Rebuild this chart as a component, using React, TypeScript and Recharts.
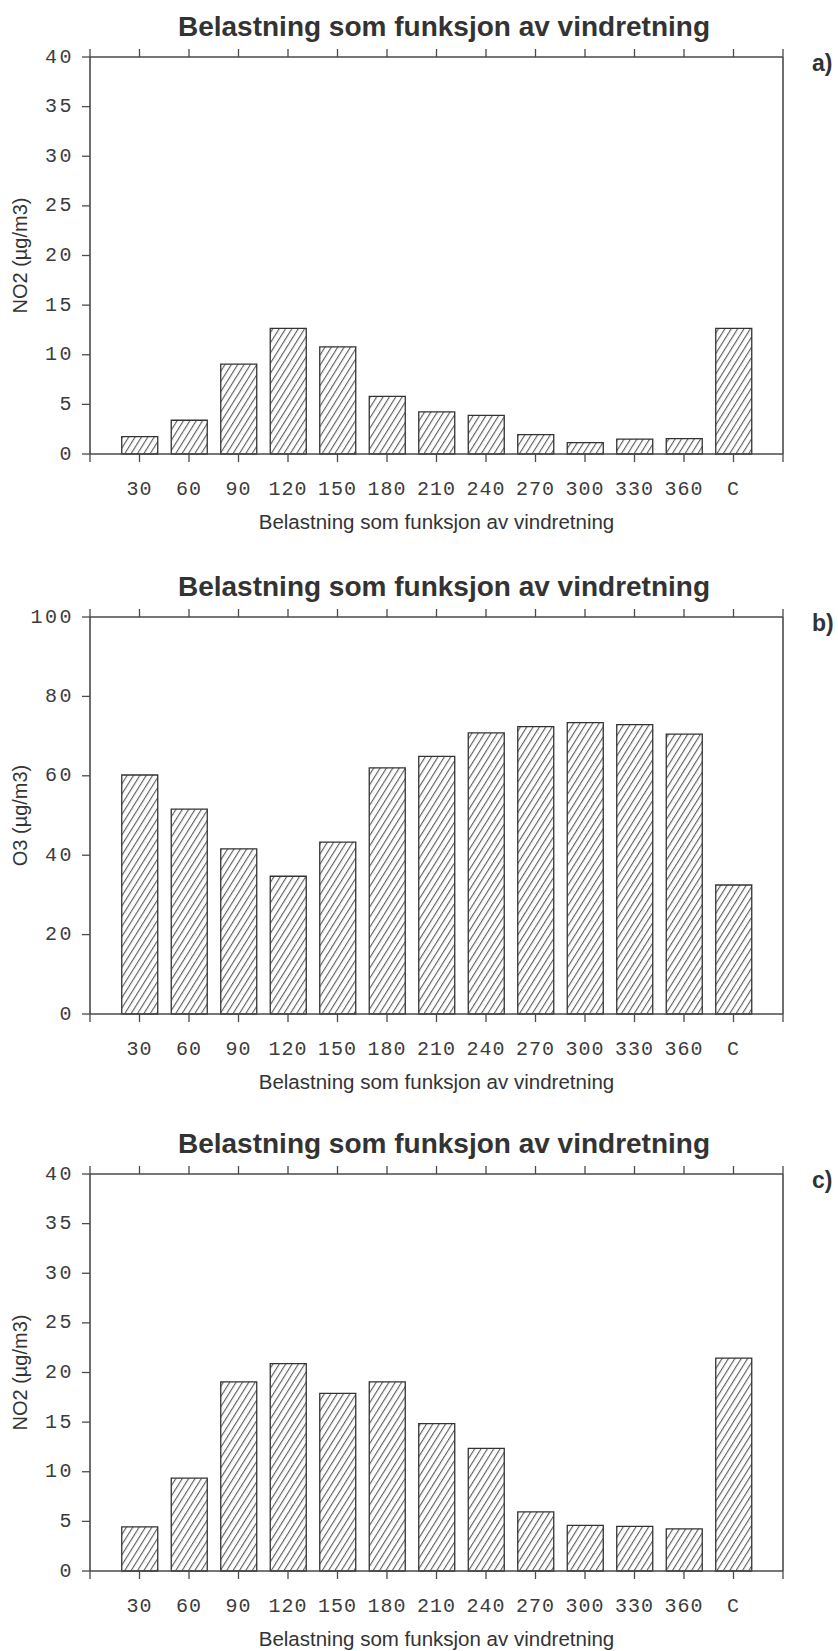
import React from 'react';
import { BarChart, Bar, XAxis, YAxis } from 'recharts';

// Wind-direction sectors (degrees) plus calm ("C")
const categories = ['30', '60', '90', '120', '150', '180', '210', '240', '270', '300', '330', '360', 'C'];

// a) NO2 (µg/m3) per sector
const no2Upper = [1.75, 3.4, 9.05, 12.65, 10.8, 5.8, 4.25, 3.9, 1.95, 1.15, 1.5, 1.55, 12.65];
// b) O3 (µg/m3) per sector
const o3Values = [60.2, 51.6, 41.6, 34.7, 43.3, 62.0, 64.9, 70.8, 72.4, 73.4, 72.9, 70.5, 32.5];
// c) NO2 (µg/m3) per sector
const no2Lower = [4.45, 9.35, 19.05, 20.9, 17.9, 19.05, 14.85, 12.35, 5.95, 4.6, 4.5, 4.25, 21.45];

const no2Ticks = [0, 5, 10, 15, 20, 25, 30, 35, 40];
const o3Ticks = [0, 20, 40, 60, 80, 100];
// slot 0 and slot 14 are the frame edges, 1..13 the sectors
const slotTicks = [0, 1, 2, 3, 4, 5, 6, 7, 8, 9, 10, 11, 12, 13, 14];

const TITLE = 'Belastning som funksjon av vindretning';
const X_TITLE = 'Belastning som funksjon av vindretning';

const W = 838;
const LEFT = 90;
const RIGHT = 55;
const TOP = 57;
const PLOT_H = 397;

const INK = '#3c3c3c';
const AXIS = '#4a4a4a';
const MONO = '"Liberation Mono", "Courier New", monospace';
const SANS = '"Liberation Sans", Arial, Helvetica, sans-serif';

const labelFor = (v: number) => (v >= 1 && v <= categories.length ? categories[v - 1] : '');

const BottomTick = (props: any) => {
  const { x, y, payload } = props;
  return (
    <text x={x} y={y} textAnchor="middle" dominantBaseline="central" fontFamily={MONO} fontSize={20} letterSpacing={1} fill={INK}>
      {labelFor(payload.value)}
    </text>
  );
};

const LeftTick = (props: any) => {
  const { x, y, payload } = props;
  return (
    <text x={x} y={y} textAnchor="end" dominantBaseline="central" fontFamily={MONO} fontSize={20} letterSpacing={2.5} fill={INK}>
      {payload.value}
    </text>
  );
};

// tick marks only, no label text
const BlankTick = () => <g />;

type PanelProps = {
  id: string;
  tag: string;
  yTitle: string;
  values: number[];
  yMax: number;
  yTicks: number[];
  top: number;
  height: number;
};

function Panel({ id, tag, yTitle, values, yMax, yTicks, top, height }: PanelProps) {
  const data = categories.map((c, i) => ({ slot: i + 1, label: c, value: values[i] }));
  const bottomH = height - TOP - PLOT_H;
  const axisLine = { stroke: AXIS, strokeWidth: 1.6 };
  const tickLine = { stroke: AXIS, strokeWidth: 1.3 };
  const plotRight = W - RIGHT;
  const zeroY = TOP + PLOT_H;
  return (
    <div style={{ position: 'absolute', left: 0, top, width: W, height }}>
      <BarChart width={W} height={height} data={data} margin={{ top: 0, right: 0, bottom: 0, left: 0 }}>
        <defs>
          <pattern id={`hatch-${id}`} patternUnits="userSpaceOnUse" width={5.4} height={10} patternTransform="rotate(32)">
            <rect x={0} y={0} width={5.4} height={10} fill="#ffffff" />
            <line x1={0.6} y1={0} x2={0.6} y2={10} stroke="#4a4a4a" strokeWidth={1} />
          </pattern>
        </defs>
        <XAxis
          xAxisId="bottom"
          orientation="bottom"
          type="number"
          dataKey="slot"
          domain={[0, 14]}
          ticks={slotTicks}
          interval={0}
          height={bottomH}
          tickSize={8}
          tickMargin={27}
          axisLine={axisLine}
          tickLine={tickLine}
          tick={BottomTick}
        />
        <XAxis
          xAxisId="top"
          orientation="top"
          type="number"
          dataKey="slot"
          domain={[0, 14]}
          ticks={slotTicks}
          interval={0}
          height={TOP}
          tickSize={8}
          axisLine={axisLine}
          tickLine={tickLine}
          tick={BlankTick}
        />
        <YAxis
          yAxisId="left"
          orientation="left"
          type="number"
          domain={[0, yMax]}
          ticks={yTicks}
          interval={0}
          width={LEFT}
          tickSize={8}
          tickMargin={8}
          axisLine={axisLine}
          tickLine={tickLine}
          tick={LeftTick}
        />
        <YAxis
          yAxisId="right"
          orientation="right"
          type="number"
          domain={[0, yMax]}
          ticks={yTicks}
          interval={0}
          width={RIGHT}
          tickSize={9}
          axisLine={axisLine}
          tickLine={tickLine}
          tick={BlankTick}
        />
        <Bar
          xAxisId="bottom"
          yAxisId="left"
          dataKey="value"
          barSize={36}
          fill={`url(#hatch-${id})`}
          stroke="#333333"
          strokeWidth={1.3}
          isAnimationActive={false}
        />
      </BarChart>
      <svg width={W} height={height} style={{ position: 'absolute', left: 0, top: 0, pointerEvents: 'none' }}>
        <text x={444} y={36} textAnchor="middle" fontFamily={SANS} fontWeight="bold" fontSize={28} fill="#333333">
          {TITLE}
        </text>
        <text x={812} y={71} fontFamily={SANS} fontWeight="bold" fontSize={23} fill="#333333">
          {tag}
        </text>
        <text
          x={20}
          y={TOP + PLOT_H / 2}
          transform={`rotate(-90 20 ${TOP + PLOT_H / 2})`}
          textAnchor="middle"
          dominantBaseline="central"
          fontFamily={SANS}
          fontSize={20}
          fill="#333333"
        >
          {yTitle}
        </text>
        <text x={(LEFT + plotRight) / 2} y={zeroY + 75} textAnchor="middle" fontFamily={SANS} fontSize={20.5} fill="#333333">
          {X_TITLE}
        </text>
      </svg>
    </div>
  );
}

export default function App() {
  return (
    <div style={{ position: 'absolute', left: 0, top: 0, width: W, height: 1651, background: '#ffffff', overflow: 'hidden' }}>
      <Panel id="a" tag="a)" yTitle="NO2 (µg/m3)" values={no2Upper} yMax={40} yTicks={no2Ticks} top={0} height={560} />
      <Panel id="b" tag="b)" yTitle="O3 (µg/m3)" values={o3Values} yMax={100} yTicks={o3Ticks} top={560} height={557} />
      <Panel id="c" tag="c)" yTitle="NO2 (µg/m3)" values={no2Lower} yMax={40} yTicks={no2Ticks} top={1117} height={534} />
    </div>
  );
}
